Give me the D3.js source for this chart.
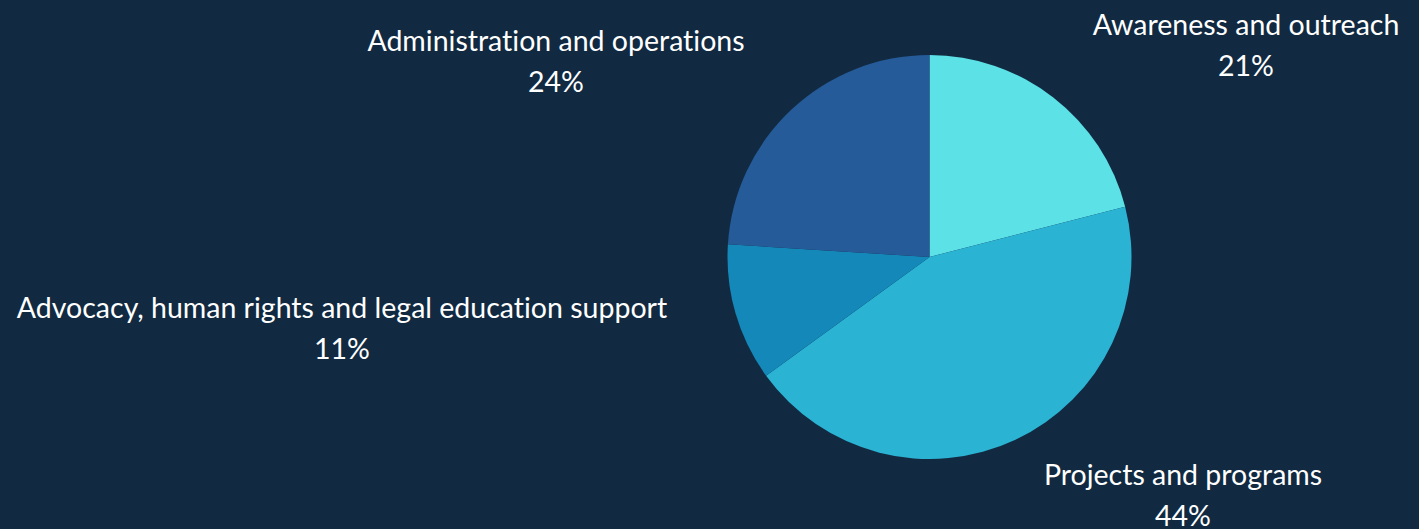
<!DOCTYPE html>
<html>
<head>
<meta charset="utf-8">
<script src="https://cdn.jsdelivr.net/npm/d3@7"></script>
<style>
  html, body { margin: 0; padding: 0; background: #112a41; }
  svg { display: block; }
  text { font-family: "Lato", "Open Sans", sans-serif; fill: #ffffff; font-variant-ligatures: none; }
</style>
</head>
<body>
<svg id="chart" width="1419" height="529"></svg>
<script>
// ---- data ----
const categories = [
  "Awareness and outreach",
  "Projects and programs",
  "Advocacy, human rights and legal education support",
  "Administration and operations"
];
const values = [21, 44, 11, 24];
const percentLabels = ["21%", "44%", "11%", "24%"];

// ---- styles / layout ----
const colors = ["#5ce1e6", "#2bb3d4", "#1588ba", "#265b9a"];
const W = 1419, H = 529;
const cx = 929.5, cy = 257, radius = 202;
// label centre x and first-line baseline y (layout only)
const labelPos = [
  [1246, 35],
  [1183, 485],
  [342, 318],
  [556, 51]
];
const lineGap = 41;

const svg = d3.select("#chart");
svg.append("rect").attr("width", W).attr("height", H).attr("fill", "#112a41");

const data = categories.map((c, i) => ({ name: c, value: values[i], pct: percentLabels[i], idx: i }));

const pie = d3.pie().sort(null).value(d => d.value);
const arc = d3.arc().innerRadius(0).outerRadius(radius);

const g = svg.append("g").attr("transform", `translate(${cx},${cy})`);
g.selectAll("path")
  .data(pie(data))
  .join("path")
  .attr("d", arc)
  .attr("fill", d => colors[d.data.idx]);

const labels = svg.append("g").attr("font-size", 28.5);
data.forEach((d, i) => {
  const t = labels.append("text").attr("text-anchor", "middle")
    .attr("x", labelPos[i][0]).attr("y", labelPos[i][1]);
  t.append("tspan").attr("x", labelPos[i][0]).text(d.name);
  t.append("tspan").attr("x", labelPos[i][0]).attr("dy", lineGap).text(d.pct);
});
</script>
</body>
</html>
